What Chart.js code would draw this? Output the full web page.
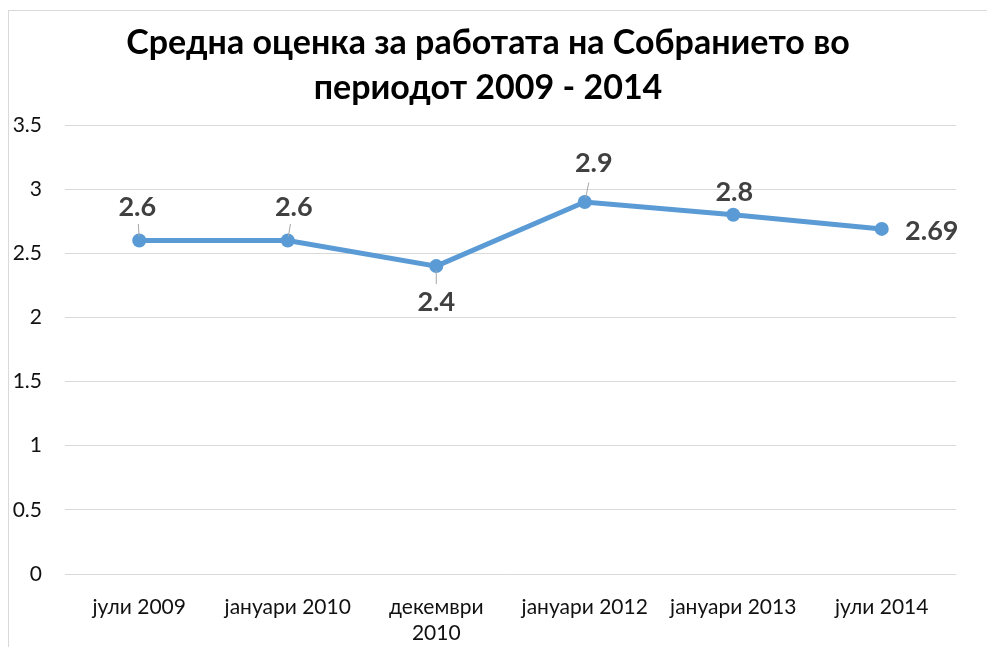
<!DOCTYPE html>
<html>
<head>
<meta charset="utf-8">
<script src="https://cdn.jsdelivr.net/npm/chart.js@4"></script>
<style>
  html, body { margin: 0; padding: 0; background: #fff; }
  #wrap { position: relative; width: 987px; height: 647px; }
  #frame { position: absolute; left: 8px; top: 10px; width: 990px; height: 650px; border: 1px solid #d9d9d9; box-sizing: border-box; }
  canvas { position: absolute; left: 0; top: 0; }
</style>
</head>
<body>
<div id="wrap">
  <div id="frame"></div>
  <canvas id="myChart" width="987" height="647"></canvas>
</div>
<script>
const categories = ['јули 2009', 'јануари 2010', ['декември', '2010'], 'јануари 2012', 'јануари 2013', 'јули 2014'];
const scores = [2.6, 2.6, 2.4, 2.9, 2.8, 2.69];
const yTicks = [0, 0.5, 1, 1.5, 2, 2.5, 3, 3.5];
const titleLines = ['Средна оценка за работата на Собранието во', 'периодот 2009 - 2014'];

// where each value label sits relative to its point, and whether it gets a leader line
const labelOffsets = [[-2, -33, true], [6, -33, true], [0, 36, true], [9, -39, true], [1, -23, false], [50, 2, false]];

const fontName = 'Lato, "Open Sans", sans-serif';

const labelsPlugin = {
  id: 'valueLabels',
  afterDatasetsDraw(chart) {
    const c = chart.ctx;
    const meta = chart.getDatasetMeta(0);
    c.save();
    meta.data.forEach(function (pt, i) {
      const off = labelOffsets[i];
      const tx = pt.x + off[0], ty = pt.y + off[1];
      if (off[2]) {
        c.strokeStyle = '#a6a6a6';
        c.lineWidth = 1;
        c.beginPath();
        const dir = off[1] < 0 ? -1 : 1;
        c.moveTo(pt.x + off[0] * 0.1, pt.y + dir * 4);
        c.lineTo(pt.x + off[0] * 0.45, pt.y + off[1] * 0.5);
        c.stroke();
      }
      c.fillStyle = '#404040';
      c.font = 'bold 27px ' + fontName;
      c.textAlign = 'center';
      c.textBaseline = 'middle';
      c.fillText(String(scores[i]), tx, ty);
    });
    c.restore();
  }
};

const titlePlugin = {
  id: 'twoLineTitle',
  afterDraw(chart) {
    const c = chart.ctx;
    c.save();
    c.fillStyle = '#000';
    c.font = 'bold 34px ' + fontName;
    c.textAlign = 'center';
    c.textBaseline = 'middle';
    c.fillText(titleLines[0], 488, 43);
    c.fillText(titleLines[1], 488, 88);
    c.restore();
  }
};

new Chart(document.getElementById('myChart'), {
  type: 'line',
  data: {
    labels: categories,
    datasets: [{
      data: scores,
      borderColor: '#5b9bd5',
      backgroundColor: '#5b9bd5',
      borderWidth: 5,
      pointRadius: 7,
      pointHoverRadius: 7,
      pointBorderWidth: 0,
      tension: 0,
      fill: false
    }]
  },
  options: {
    responsive: false,
    animation: false,
    layout: { padding: { left: 0, right: 31, top: 125, bottom: 0 } },
    plugins: { legend: { display: false }, tooltip: { enabled: false }, title: { display: false } },
    scales: {
      x: {
        offset: true,
        grid: { display: false },
        border: { display: false },
        ticks: { color: '#111', font: { family: fontName, size: 21 }, padding: 13, maxRotation: 0, autoSkip: false },
        afterFit(s) { s.height = 73; }
      },
      y: {
        min: 0,
        max: 3.5,
        afterBuildTicks(s) { s.ticks = yTicks.map(v => ({ value: v })); },
        grid: { color: '#d9d9d9', lineWidth: 1, drawTicks: false },
        border: { display: false },
        ticks: { color: '#111', font: { family: fontName, size: 21 }, padding: 23, callback: v => String(v) },
        afterFit(s) { s.width = 65; }
      }
    }
  },
  plugins: [labelsPlugin, titlePlugin]
});
</script>
</body>
</html>
